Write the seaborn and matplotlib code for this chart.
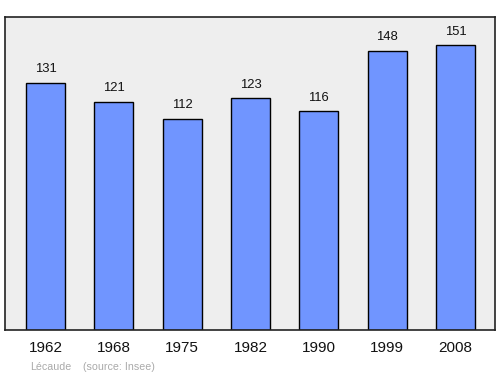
import matplotlib
matplotlib.use("Agg")
import matplotlib.pyplot as plt
import seaborn as sns
import pandas as pd

years = ["1962", "1968", "1975", "1982", "1990", "1999", "2008"]
population = [131, 121, 112, 123, 116, 148, 151]

sns.set_style("white")
plt.rcParams['font.family'] = ['Liberation Sans', 'DejaVu Sans']

fig = plt.figure(figsize=(5, 3.74), dpi=100)
ax = fig.add_axes([0.01, 0.118, 0.98, 0.836])
df = pd.DataFrame({"year": years, "pop": population})
sns.barplot(data=df, x="year", y="pop", ax=ax, color="#7095ff", saturation=1,
            width=0.57, edgecolor="black", linewidth=1)
ax.set_facecolor("#eeeeee")
ax.set_xlim(-0.593, len(years) - 1 + 0.578)
ax.set_ylim(0, 166)
for i, v in enumerate(population):
    ax.annotate(str(v), (i, v), xytext=(0, 5.5), textcoords="offset points",
                ha="center", va="bottom", fontsize=9.4, color="#111111")
ax.set_xlabel("")
ax.set_ylabel("")
ax.set_yticks([])
ax.tick_params(axis="x", length=0, pad=8, labelsize=11, colors="#111111")
for s in ax.spines.values():
    s.set_color("#222222")
    s.set_linewidth(1.2)
fig.text(0.06, 0.012, "Lécaude", fontsize=7.7, color="#aaaaaa")
fig.text(0.166, 0.012, "(source: Insee)", fontsize=7.7, color="#aaaaaa")
fig.savefig("out.png", dpi=100)
